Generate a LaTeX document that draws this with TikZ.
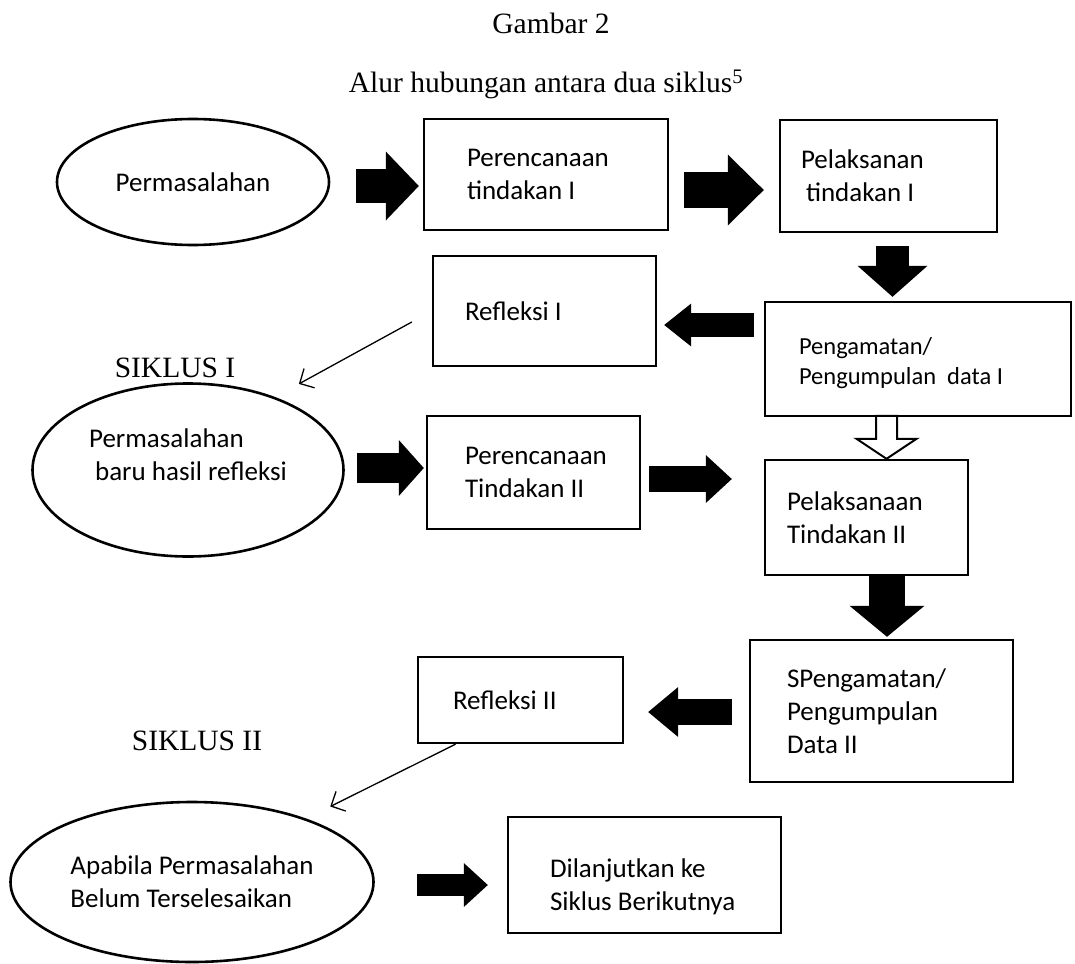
\documentclass[tikz,border=0pt]{standalone}
\usepackage{fontspec}
\setmainfont{Liberation Serif}
\newfontfamily\calib{Carlito}
\usetikzlibrary{shapes.geometric,arrows.meta,positioning,calc}

\begin{document}
\begin{tikzpicture}[x=1pt, y=-1pt,
  box/.style={rectangle, draw, line width=2.4pt, align=flush left, inner ysep=0pt,
    font=\calib\fontsize{27}{33}\selectfont},
  oval/.style={ellipse, draw, line width=2.6pt, inner sep=0pt, align=left,
    font=\calib\fontsize{27}{33}\selectfont},
  caption/.style={font=\fontsize{29.5}{35}\selectfont, anchor=base, inner sep=0pt},
  fat/.style n args={3}{line width=#1pt, -{Triangle[length=#2pt, width=#3pt, line width=0pt]}},
  hollow/.style={draw, fill=white, line width=2pt, line join=miter},
  pointer/.style={line width=1.3pt, -{Straight Barb[length=11pt, width=22pt]}}]
\useasboundingbox (0,0) rectangle (1075,963);
\fill[white] (0,0) rectangle (1075,963);

% judul
\node[caption] (judul) at (551,34) {Gambar 2};
\node[caption] (subjudul) at (546,93) {Alur hubungan antara dua siklus\textsuperscript{5}};

% siklus I
\node[oval, minimum width=272pt, minimum height=126pt] (mas1) at (193,182) {Permasalahan};
\node[box, minimum width=244pt, minimum height=111pt, text width=158pt, inner xsep=43pt] (perc1) at (546,174.5) {Perencanaan\\tindakan I};
\node[box, minimum width=217pt, minimum height=112pt, text width=175pt, inner xsep=21pt] (pel1) at (888.5,176) {Pelaksanan\\\hspace*{5pt}tindakan I};
\node[box, minimum width=306pt, minimum height=114pt, text width=238pt, inner xsep=34pt,
  font=\calib\fontsize{24.5}{30}\selectfont] (amat1) at (918,359) {\rule{0pt}{26pt}Pengamatan/\\Pengumpulan~ data I};
\node[box, minimum width=223pt, minimum height=110pt, text width=159pt, inner xsep=32pt] (ref1) at (544.5,311) {Refleksi I};
\node[caption] (sik1) at (175,377) {SIKLUS I};

% siklus II
\node[oval, minimum width=311pt, minimum height=173pt] (mas2) at (188,470) {Permasalahan\\\hspace*{6pt}baru hasil refleksi\rule[-30pt]{0pt}{30pt}};
\node[box, minimum width=213pt, minimum height=113pt, text width=137pt, inner xsep=38pt] (perc2) at (533.5,472.5) {Perencanaan\\Tindakan II};
\node[box, minimum width=203pt, minimum height=115pt, text width=159pt, inner xsep=22pt] (pel2) at (866.5,517.5) {Pelaksanaan\\Tindakan II};
\node[box, minimum width=263pt, minimum height=142pt, text width=189pt, inner xsep=37pt] (amat2) at (881.5,711) {SPengamatan/\\Pengumpulan\\Data II};
\node[box, minimum width=205pt, minimum height=86pt, text width=135pt, inner xsep=35pt] (ref2) at (520.5,700) {Refleksi II};
\node[caption] (sik2) at (197,750) {SIKLUS II};
\node[oval, minimum width=363pt, minimum height=160pt] (mas3) at (192,882) {Apabila Permasalahan\\Belum Terselesaikan};
\node[box, minimum width=273pt, minimum height=116pt, text width=189pt, inner xsep=42pt] (dil) at (644.5,875) {\rule{0pt}{42pt}Dilanjutkan ke\\Siklus Berikutnya};

% panah blok
\draw[fat={34}{33}{69}, shorten <=26pt, shorten >=4pt] ([yshift=-4pt]mas1.east) -- ([yshift=-4pt]mas1.east -| perc1.west);
\draw[fat={36}{36}{71}, shorten <=15pt, shorten >=15pt] ([yshift=-15.5pt]perc1.east) -- ([yshift=-15.5pt]perc1.east -| pel1.west);
\draw[fat={33}{31}{70}, shorten <=13pt, shorten >=4pt] ([xshift=4pt]pel1.south) -- ([xshift=4pt]pel1.south |- amat1.north);
\draw[fat={24}{27}{43}, shorten <=10pt, shorten >=7pt] ([yshift=-14pt]ref1.east -| amat1.west) -- ([yshift=-14pt]ref1.east);
\draw[fat={30}{25}{56}, shorten <=12pt, shorten >=2pt] ([yshift=2pt]mas2.east) -- ([yshift=2pt]mas2.east -| perc2.west);
\draw[fat={26}{26}{48}, shorten <=8pt, shorten >=32pt] ([yshift=-6.5pt]perc2.east) -- ([yshift=-6.5pt]perc2.east -| pel2.west);
\coordinate (oa) at ([xshift=20pt]pel2.north);
\draw[hollow] (oa) -- ++(-30,-20) -- ++(19.5,0) -- ++(0,-23) -- ++(21,0) -- ++(0,23) -- ++(19.5,0) -- cycle;
\draw[fat={36}{31}{75}, shorten >=2pt] ([xshift=20.5pt]pel2.south) -- ([xshift=20.5pt]pel2.south |- amat2.north);
\draw[fat={26}{30}{50}, shorten <=17pt, shorten >=24pt] ([yshift=-12pt]ref2.east -| amat2.west) -- ([yshift=-12pt]ref2.east);
\draw[fat={22}{24}{44}, shorten <=42pt, shorten >=19pt] ([yshift=-3pt]mas3.east) -- ([yshift=-3pt]mas3.east -| dil.west);

% panah tipis
\draw[pointer] ([xshift=-20pt, yshift=-11pt]ref1.west) -- ([yshift=24pt]mas2.north east);
\draw[pointer] ([xshift=-65pt]ref2.south) -- ([xshift=9pt, yshift=18pt]mas3.north east);
\end{tikzpicture}
\end{document}
